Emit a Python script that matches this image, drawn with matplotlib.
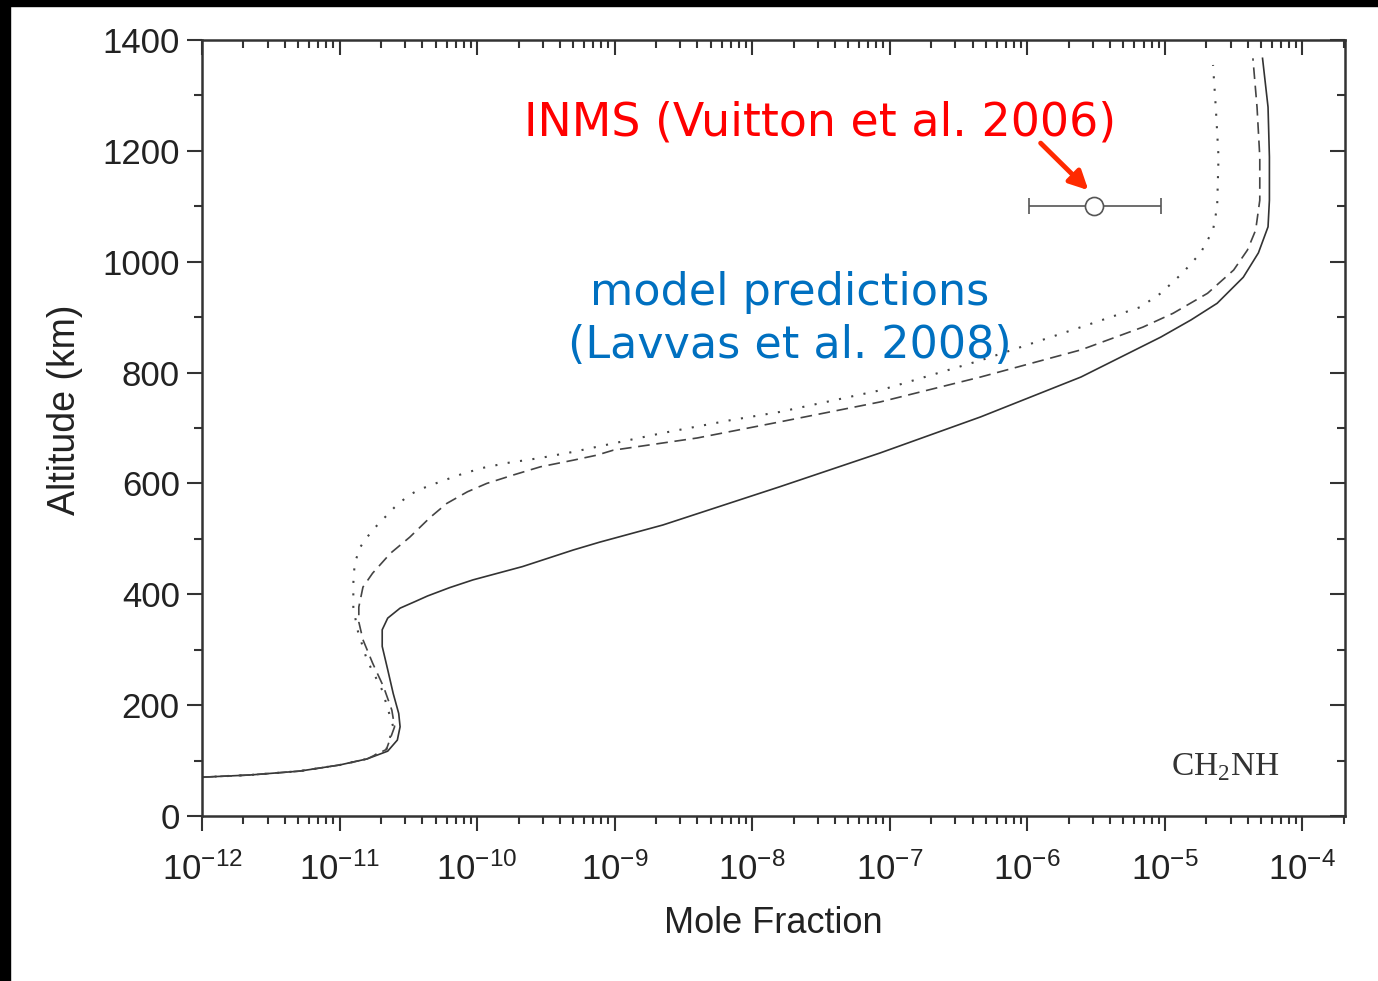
import matplotlib
matplotlib.use("Agg")
import matplotlib.pyplot as plt
from matplotlib.patches import Rectangle
from matplotlib.ticker import LogLocator, MultipleLocator

plt.rcParams['font.family'] = ['Liberation Sans', 'DejaVu Sans']
plt.rcParams['axes.unicode_minus'] = False

# CH2NH model profiles: log10(mole fraction) vs altitude (km)
solid_logx = [-12.0, -11.65, -11.29, -11.00, -10.80, -10.65, -10.58, -10.56, -10.57,
              -10.61, -10.65, -10.69, -10.69, -10.65, -10.56, -10.45, -10.36, -10.20,
              -10.03, -9.67, -9.30, -9.11, -8.65, -7.80, -7.07, -6.34, -5.61, -5.03,
              -4.81, -4.62, -4.43, -4.32, -4.25, -4.24, -4.24, -4.25, -4.29]
solid_alt = [70, 74, 81, 92, 103, 117, 137, 161, 185,
             221, 264, 306, 336, 357, 375, 387, 397, 412,
             426, 450, 480, 494, 525, 594, 655, 720, 792, 864,
             895, 925, 972, 1016, 1063, 1111, 1189, 1279, 1367]

dashed_logx = [-12.0, -11.65, -11.29, -11.00, -10.80, -10.66, -10.60, -10.62, -10.68,
               -10.76, -10.83, -10.86, -10.86, -10.83, -10.76, -10.63, -10.49, -10.34,
               -10.22, -10.07, -9.93, -9.74, -9.54, -9.30, -9.13, -9.01, -8.40, -7.80,
               -7.07, -6.34, -5.61, -5.16, -4.94, -4.69, -4.50, -4.40, -4.34, -4.31,
               -4.31, -4.33, -4.36]
dashed_alt = [70, 74, 81, 92, 103, 120, 161, 191, 233,
              276, 318, 350, 377, 413, 438, 474, 503, 539,
              564, 585, 600, 615, 630, 642, 651, 660, 682, 711,
              747, 792, 841, 882, 907, 943, 985, 1021, 1057, 1111,
              1189, 1279, 1367]

dotted_logx = [-12.0, -11.65, -11.29, -11.00, -10.80, -10.66, -10.61, -10.69, -10.80,
               -10.87, -10.90, -10.90, -10.89, -10.85, -10.80, -10.74, -10.67, -10.60,
               -10.51, -10.43, -10.27, -10.11, -9.96, -9.78, -9.54, -9.30, -9.13, -8.65,
               -8.16, -7.80, -7.07, -6.34, -5.61, -5.18, -5.03, -4.87, -4.74, -4.65,
               -4.62, -4.61, -4.63, -4.65]
dotted_alt = [70, 74, 81, 92, 103, 120, 161, 227, 281,
              336, 377, 420, 456, 485, 503, 521, 539, 557,
              576, 588, 603, 617, 628, 637, 646, 657, 666, 691,
              714, 729, 768, 822, 882, 918, 943, 980, 1016, 1057,
              1099, 1189, 1279, 1355]

# INMS measurement
inms_x = 3.07e-6
inms_lo = 1.02e-6
inms_hi = 9.3e-6
inms_alt = 1100

fig = plt.figure(figsize=(13.78, 9.81), dpi=100)
ax = fig.add_axes([0.1466, 0.1682, 0.8295, 0.791])

ax.plot([10 ** v for v in solid_logx], solid_alt, color='#333333', lw=1.2)
ax.plot([10 ** v for v in dashed_logx], dashed_alt, color='#444444', lw=1.2,
        linestyle=(0, (7, 4)))
ax.plot([10 ** v for v in dotted_logx], dotted_alt, color='#444444', lw=1.5,
        linestyle=(0, (1, 5)))

ax.errorbar([inms_x], [inms_alt], xerr=[[inms_x - inms_lo], [inms_hi - inms_x]],
            fmt='o', ms=13, mfc='white', mec='#555555', mew=1.2,
            ecolor='#555555', elinewidth=1.2, capsize=6, capthick=1.2)

ax.set_xscale('log')
ax.set_xlim(1e-12, 10 ** -3.69)
ax.set_ylim(0, 1400)
ax.yaxis.set_major_locator(MultipleLocator(200))
ax.yaxis.set_minor_locator(MultipleLocator(100))
ax.xaxis.set_major_locator(LogLocator(base=10, numticks=20))
ax.xaxis.set_minor_locator(LogLocator(base=10, subs=range(2, 10), numticks=20))

for s in ax.spines.values():
    s.set_linewidth(1.8)
    s.set_color('#333333')

ax.tick_params(which='both', colors='#333333', labelcolor='#222222', width=1.5,
               top=True, right=True, direction='out')
ax.tick_params(axis='x', labelsize=25, pad=15)
ax.tick_params(axis='y', labelsize=25, pad=5)
ax.tick_params(which='major', length=11)
ax.tick_params(which='minor', length=5.5)
# top and right ticks point inward
for t in ax.xaxis.get_major_ticks() + ax.xaxis.get_minor_ticks():
    t.tick2line.set_marker(3)
for t in ax.yaxis.get_major_ticks() + ax.yaxis.get_minor_ticks():
    t.tick2line.set_marker(0)

ax.set_xlabel('Mole Fraction', fontsize=26, color='#222222', labelpad=14)
ax.set_ylabel('Altitude (km)', fontsize=27, color='#222222')
ax.yaxis.set_label_coords(-0.104, 0.523)

ax.text(0.541, 0.893, 'INMS (Vuitton et al. 2006)', transform=ax.transAxes,
        color='#FF0000', fontsize=33, family='DejaVu Sans', ha='center', va='center')
ax.text(0.514, 0.640, 'model predictions\n(Lavvas et al. 2008)', transform=ax.transAxes,
        color='#0070C0', fontsize=32, family='DejaVu Sans', ha='center', va='center',
        linespacing=1.3)
ax.annotate('', xy=(2.78e-6, 1129), xytext=(1.25e-6, 1214),
            arrowprops=dict(arrowstyle='-|>', color='#FF2A00', lw=3.5,
                            mutation_scale=28, shrinkA=0, shrinkB=0))
ax.text(0.943, 0.063, r'CH$_\mathregular{2}$NH', transform=ax.transAxes,
        family='Liberation Serif', fontsize=24, color='#333333', ha='right', va='center')

# black frame strips of the slide
fig.patches.append(Rectangle((0, 0), 10 / 1378, 1, transform=fig.transFigure,
                             color='black', zorder=10))
fig.patches.append(Rectangle((0, 1 - 6 / 981), 1, 6 / 981, transform=fig.transFigure,
                             color='black', zorder=10))

fig.savefig('out.png', dpi=100)
